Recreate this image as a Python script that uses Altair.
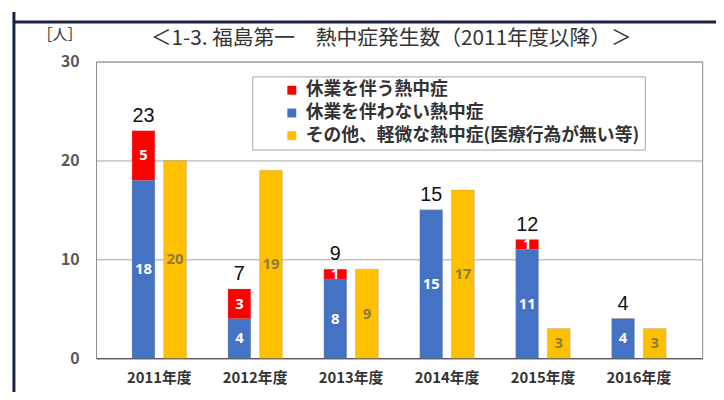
import altair as alt
import pandas as pd

years = ["2011年度", "2012年度", "2013年度", "2014年度", "2015年度", "2016年度"]
kyugyo_ari = [5, 3, 1, 0, 1, 0]          # 休業を伴う熱中症
kyugyo_nashi = [18, 4, 8, 15, 11, 4]     # 休業を伴わない熱中症
sonota = [20, 19, 9, 17, 3, 3]           # その他、軽微な熱中症
totals = [23, 7, 9, 15, 12, 4]
series_names = ["休業を伴う熱中症", "休業を伴わない熱中症", "その他、軽微な熱中症(医療行為が無い等)"]
series_colors = ["#FF0000", "#4472C4", "#FFC000"]

rows = []
for i, yr in enumerate(years):
    rows.append(dict(year=yr, series=series_names[1], grp="A", order=0, value=kyugyo_nashi[i]))
    rows.append(dict(year=yr, series=series_names[0], grp="A", order=1, value=kyugyo_ari[i]))
    rows.append(dict(year=yr, series=series_names[2], grp="B", order=0, value=sonota[i]))
df = pd.DataFrame(rows)
tot_df = pd.DataFrame(dict(year=years, total=totals, grp=["A"] * len(years)))

FONT = "Noto Sans CJK JP"

x_enc = alt.X(
    "year:N", sort=years,
    scale=alt.Scale(paddingInner=0.433, paddingOuter=0.376),
    axis=alt.Axis(title=None, labelAngle=0, labelFontSize=15, labelFontWeight="bold",
                  labelColor="#333333", labelPadding=13, ticks=False,
                  domainColor="#595959", domainWidth=1.2),
)
xo_enc = alt.XOffset("grp:N", scale=alt.Scale(domain=["A", "B"], paddingInner=0.281, paddingOuter=0))
y_scale = alt.Scale(domain=[0, 30], nice=False)

base = alt.Chart(df).transform_stack(
    stack="value", groupby=["year", "grp"], as_=["y0", "y1"], sort=[alt.SortField("order")]
).transform_calculate(mid="(datum.y0 + datum.y1) / 2")

bars = base.mark_bar(strokeWidth=0.6, stroke="#8a8a8a", strokeOpacity=0.5).encode(
    x=x_enc,
    xOffset=xo_enc,
    y=alt.Y("y0:Q", scale=y_scale,
            axis=alt.Axis(values=[0, 10, 20, 30], title="［人］", titleAngle=0,
                          titleX=-37, titleY=-27, titleAlign="center", titleBaseline="middle",
                          titleFontSize=15, titleFontWeight="normal", titleColor="#333333",
                          labelFontSize=16, labelFontWeight="bold", labelColor="#595959",
                          labelPadding=17, ticks=False, grid=True, gridColor="#A6A6A6",
                          domainColor="#8c8c8c")),
    y2="y1:Q",
    color=alt.Color("series:N", scale=alt.Scale(domain=series_names, range=series_colors),
                    legend=alt.Legend(title=None, orient="none", legendX=158, legendY=15,
                                      symbolType="square", symbolSize=81, symbolStrokeWidth=0,
                                      symbolOffset=26, labelOffset=5,
                                      labelFontSize=18, labelFontWeight="bold", labelColor="#333333",
                                      labelLimit=500, rowPadding=5, padding=5,
                                      strokeColor="#A6A6A6", fillColor="white")),
)

inner = base.transform_filter("datum.value > 0").mark_text(
    fontSize=15, fontWeight="bold", font="Noto Sans", baseline="middle"
).encode(
    x=x_enc, xOffset=xo_enc,
    y=alt.Y("mid:Q", scale=y_scale),
    text="value:Q",
    color=alt.condition(alt.datum.grp == "B", alt.value("#8D7B45"), alt.value("#FFFFFF")),
)

tot = alt.Chart(tot_df).mark_text(fontSize=20, font="Liberation Sans", color="#111111",
                                  baseline="middle", dy=-15).encode(
    x=x_enc, xOffset=xo_enc,
    y=alt.Y("total:Q", scale=y_scale),
    text="total:Q",
)

# decorative dark frame (top and left edges of the slide panel)
frame_df = pd.DataFrame({"k": [0]})
frame_left = alt.Chart(frame_df).mark_rule(stroke="#1b2140", strokeWidth=3).encode(
    x=alt.value(-83), y=alt.value(-50), y2=alt.value(400))
frame_top = alt.Chart(frame_df).mark_rule(stroke="#1b2140", strokeWidth=3).encode(
    y=alt.value(-40), x=alt.value(-84), x2=alt.value(660))

chart = alt.layer(frame_left, frame_top, bars, inner, tot).properties(
    width=613, height=300,
    title=alt.TitleParams("＜1-3. 福島第一　熱中症発生数（2011年度以降）＞", fontSize=21,
                          fontWeight="normal", color="#333333", anchor="middle",
                          offset=0, dy=39, dx=-8, font=FONT),
    autosize=alt.AutoSizeParams(type="none"),
    padding={"left": 89, "top": 52, "right": 14, "bottom": 32},
).configure(font=FONT).configure_view(stroke="#8c8c8c", strokeWidth=1)

chart.save("out.html", embed_options={"renderer": "svg", "actions": False})
